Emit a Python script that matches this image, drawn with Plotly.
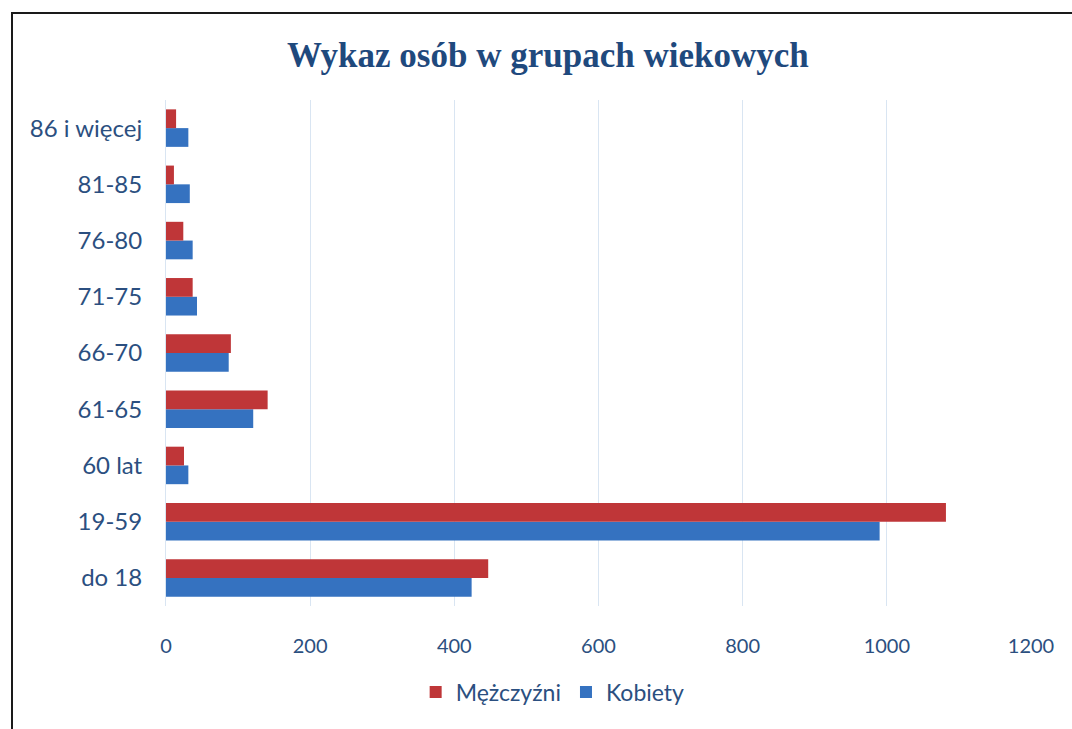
import plotly.graph_objects as go

categories = ["do 18", "19-59", "60 lat", "61-65", "66-70", "71-75", "76-80", "81-85", "86 i więcej"]
mezczyzni = [447, 1082, 25, 141, 90, 37, 24, 11, 14]
kobiety = [424, 990, 31, 121, 87, 43, 37, 33, 31]
x_ticks = [0, 200, 400, 600, 800, 1000, 1200]

label_color = "#2B4F80"
font_family = "Lato, 'Noto Sans', sans-serif"

fig = go.Figure()
fig.add_trace(go.Bar(
    y=categories, x=kobiety, name="Kobiety", orientation="h",
    marker=dict(color="#3572C0", line=dict(width=0)), legendrank=2,
))
fig.add_trace(go.Bar(
    y=categories, x=mezczyzni, name="Mężczyźni", orientation="h",
    marker=dict(color="#BF3638", line=dict(width=0)), legendrank=1,
))

fig.update_layout(
    width=1072, height=729,
    margin=dict(l=166, r=41, t=100, b=123),
    paper_bgcolor="white", plot_bgcolor="white",
    barmode="group", bargap=0.333, bargroupgap=0,
    title=dict(
        text="<b>Wykaz osób w grupach wiekowych</b>",
        font=dict(family="'Liberation Serif', 'Times New Roman', serif", size=35, color="#1F497D"),
        x=0.511, xanchor="center", xref="container",
        y=1 - 55 / 729, yanchor="middle", yref="container",
    ),
    legend=dict(
        orientation="h", x=0.447, xanchor="center", y=-0.17, yanchor="middle",
        font=dict(family=font_family, size=23, color=label_color),
        itemwidth=30, traceorder="normal",
    ),
    xaxis=dict(
        range=[0, 1200], tickvals=x_ticks, showgrid=True, gridcolor="#D9E5F2", gridwidth=1,
        zeroline=False, showline=False,
        tickfont=dict(family=font_family, size=20, color=label_color),
        ticklabelstandoff=26, fixedrange=True,
    ),
    yaxis=dict(
        showgrid=False, zeroline=False, showline=True, linecolor="#D9E5F2", linewidth=1,
        tickfont=dict(family=font_family, size=24, color=label_color),
        ticklabelstandoff=18, fixedrange=True,
    ),
    shapes=[dict(
        type="rect", xref="paper", yref="paper",
        x0=(12 - 166) / 865, x1=1.2, y0=-0.4, y1=(606 - 13) / 506,
        line=dict(color="#1a1a1a", width=2), fillcolor="rgba(0,0,0,0)", layer="below",
    )],
)

fig.write_html("out.html", config={"displayModeBar": False},
               post_script="document.body.style.margin='0';")
